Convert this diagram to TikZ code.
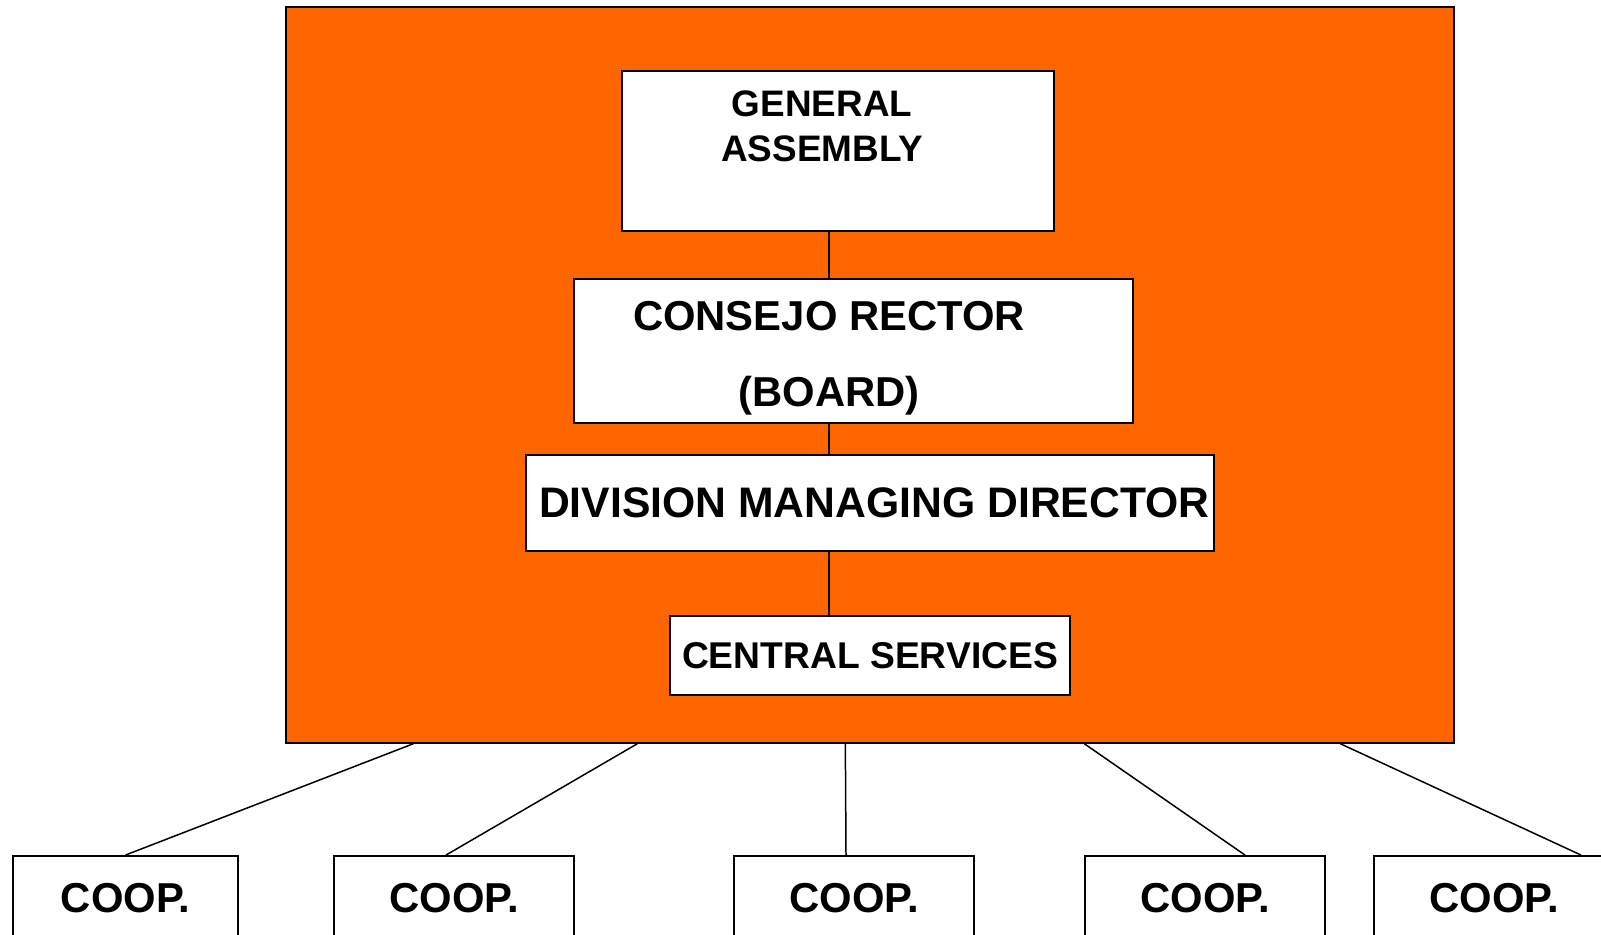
\documentclass[tikz,border=0pt]{standalone}
\usepackage{fontspec}
\setmainfont{Liberation Sans}
\usetikzlibrary{calc}
\definecolor{coopOrange}{RGB}{255,102,0}

\begin{document}
\begin{tikzpicture}[x=0.02cm, y=-0.02cm,
    box/.style={draw, line width=1.1pt, fill=white, inner sep=0pt},
    coop/.style={box, minimum width=4.8cm, minimum height=1.68cm, font=\fontsize{23.8pt}{28pt}\selectfont\bfseries},
    link/.style={draw, line width=0.85pt}]
    \useasboundingbox (0,0) rectangle (1601,934);
    \clip (0,0) rectangle (1601,934);

    % orange frame of the division
    \node (group) at (870,375) [draw, line width=0.9pt, fill=coopOrange, minimum width=23.36cm, minimum height=14.72cm, inner sep=0pt] {};

    \node (ga) at (838,151) [box, minimum width=8.64cm, minimum height=3.2cm] {};
    \node (gatext) at (822,126.5) [align=center, font=\fontsize{21pt}{25.5pt}\selectfont\bfseries] {GENERAL\\ASSEMBLY};

    \node (cr) at (853.5,351) [box, minimum width=11.18cm, minimum height=2.88cm] {};
    \node (crtext) at (829,358) [align=center, font=\fontsize{23.8pt}{43pt}\selectfont\bfseries] {CONSEJO RECTOR\\(BOARD)};

    \node (dmd) at (870,503) [box, minimum width=13.76cm, minimum height=1.92cm, font=\fontsize{24.3pt}{29pt}\selectfont\bfseries] {\hspace{5pt}DIVISION MANAGING DIRECTOR};
    \node (cs) at (870,655.5) [box, minimum width=8cm, minimum height=1.58cm, font=\fontsize{21.2pt}{25pt}\selectfont\bfseries] {CENTRAL SERVICES};

    % cooperatives
    \node (c1) at (125.5,898) [coop, minimum width=4.5cm] {COOP.};
    \node (c2) at (454,898) [coop] {COOP.};
    \node (c3) at (854,898) [coop] {COOP.};
    \node (c4) at (1205,898) [coop] {COOP.};
    \node (c5) at (1494,898) [coop] {COOP.};

    \coordinate (spine) at (829,0);
    \draw [link] (ga.south -| spine) -- (cr.north -| spine);
    \draw [link] (cr.south -| spine) -- (dmd.north -| spine);
    \draw [link] (dmd.south -| spine) -- (cs.north -| spine);

    \draw [link] ($(group.south west)+(128,0)$) -- (c1.north);
    \draw [link] ($(group.south west)+(352,0)$) -- ($(c2.north)+(-8,0)$);
    \draw [link] ($(group.south west)+(560,0)$) -- ($(c3.north)+(-8,0)$);
    \draw [link] ($(group.south west)+(799,0)$) -- ($(c4.north)+(40,0)$);
    \draw [link] ($(group.south west)+(1055,0)$) -- ($(c5.north)+(87,0)$);
\end{tikzpicture}
\end{document}
